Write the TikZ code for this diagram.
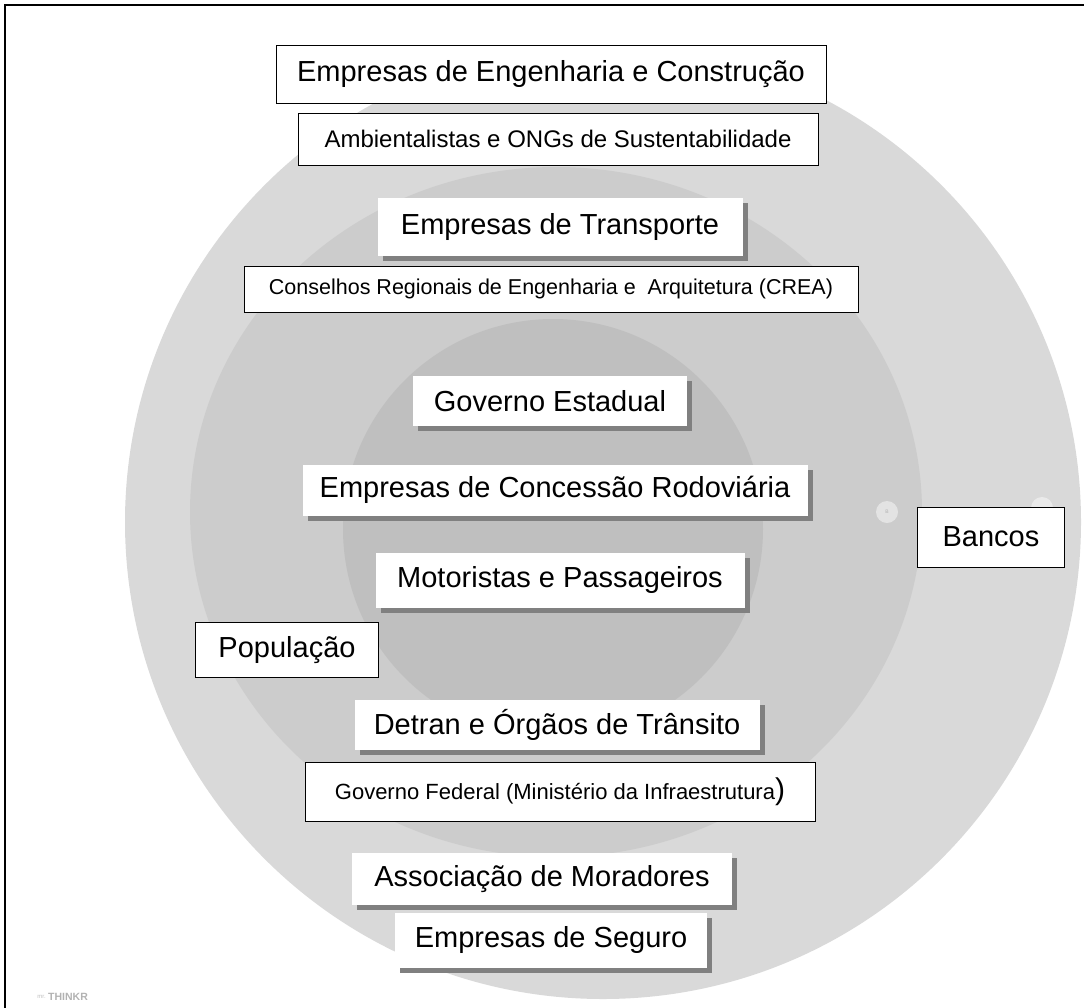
\documentclass[tikz,border=0pt]{standalone}
\usepackage{fontspec}
\setmainfont{Liberation Sans}
\usetikzlibrary{shadows,positioning}
\tikzset{
  flatbox/.style={draw=black, line width=1pt, fill=white, inner sep=0pt},
  shadowbox/.style={fill=white, inner sep=0pt,
    drop shadow={shadow xshift=5pt, shadow yshift=-5pt, fill=black!50, opacity=1}},
  big/.style={font=\fontsize{29}{32}\selectfont},
  mid/.style={font=\fontsize{24}{27}\selectfont},
  small/.style={font=\fontsize{21.5}{24}\selectfont},
  dot/.style={circle, fill=white, fill opacity=0.45, inner sep=0pt, minimum size=22pt},
}
\begin{document}
\begin{tikzpicture}[x=1pt,y=-1pt]
\useasboundingbox (0,0) rectangle (1084,1007);
% Kreise
\fill[black!15] (603,522) ellipse [x radius=478pt, y radius=477pt];
\fill[black!20] (556,512) ellipse [x radius=366pt, y radius=345pt];
\fill[black!25] (553,529) circle [radius=210pt];
% Punkte
\node[dot, text=black!30, text opacity=1, font=\fontsize{5}{5}\selectfont] (dotB) at (887,512) {B};
\node[dot] (dotC) at (1042,508) {};
% Rahmen
\draw[line width=2pt] (5,1030) -- (5,5) -- (1100,5);
% Boxen
\node[flatbox, big, minimum width=550pt, minimum height=58pt] (eng) at (551,74) {Empresas de Engenharia e Construção};
\node[flatbox, mid, minimum width=520pt, minimum height=52pt] (amb) at (558,139) {Ambientalistas e ONGs de Sustentabilidade};
\node[shadowbox, big, minimum width=365pt, minimum height=58pt] (trans) at (560,227) {Empresas de Transporte};
\node[flatbox, small, minimum width=614pt, minimum height=46pt] (crea) at (551,289) {Conselhos Regionais de Engenharia e \ Arquitetura (CREA)};
\node[shadowbox, big, minimum width=274pt, minimum height=50pt] (gest) at (550,401) {Governo Estadual};
\node[shadowbox, big, minimum width=505pt, minimum height=51pt] (conc) at (555,490) {Empresas de Concessão Rodoviária};
\node[shadowbox, big, minimum width=369pt, minimum height=55pt] (mot) at (560,580) {Motoristas e Passageiros};
\node[flatbox, big, minimum width=147pt, minimum height=60pt] (banc) at (991,537) {Bancos};
\node[flatbox, big, minimum width=183pt, minimum height=55pt] (pop) at (287,650) {População};
\node[shadowbox, big, minimum width=405pt, minimum height=50pt] (detran) at (557,725) {Detran e Órgãos de Trânsito};
\node[flatbox, font=\fontsize{22}{24}\selectfont, minimum width=510pt, minimum height=59pt] (gfed) at (560,792) {Governo Federal (Ministério da Infraestrutura{\fontsize{30}{32}\selectfont )}};
\node[shadowbox, big, minimum width=380pt, minimum height=52pt] (assoc) at (542,879) {Associação de Moradores};
\node[shadowbox, big, minimum width=312pt, minimum height=55pt] (seg) at (551,940) {Empresas de Seguro};
% Logo
\node[anchor=west, inner sep=0pt, text=black!30, font=\bfseries\fontsize{10.5}{10.5}\selectfont] (logo) at (48,997) {THINKR};
\node[left=2pt of logo, inner sep=0pt, text=black!25, font=\fontsize{6}{6}\selectfont] (mr) {mr.};
\end{tikzpicture}
\end{document}
